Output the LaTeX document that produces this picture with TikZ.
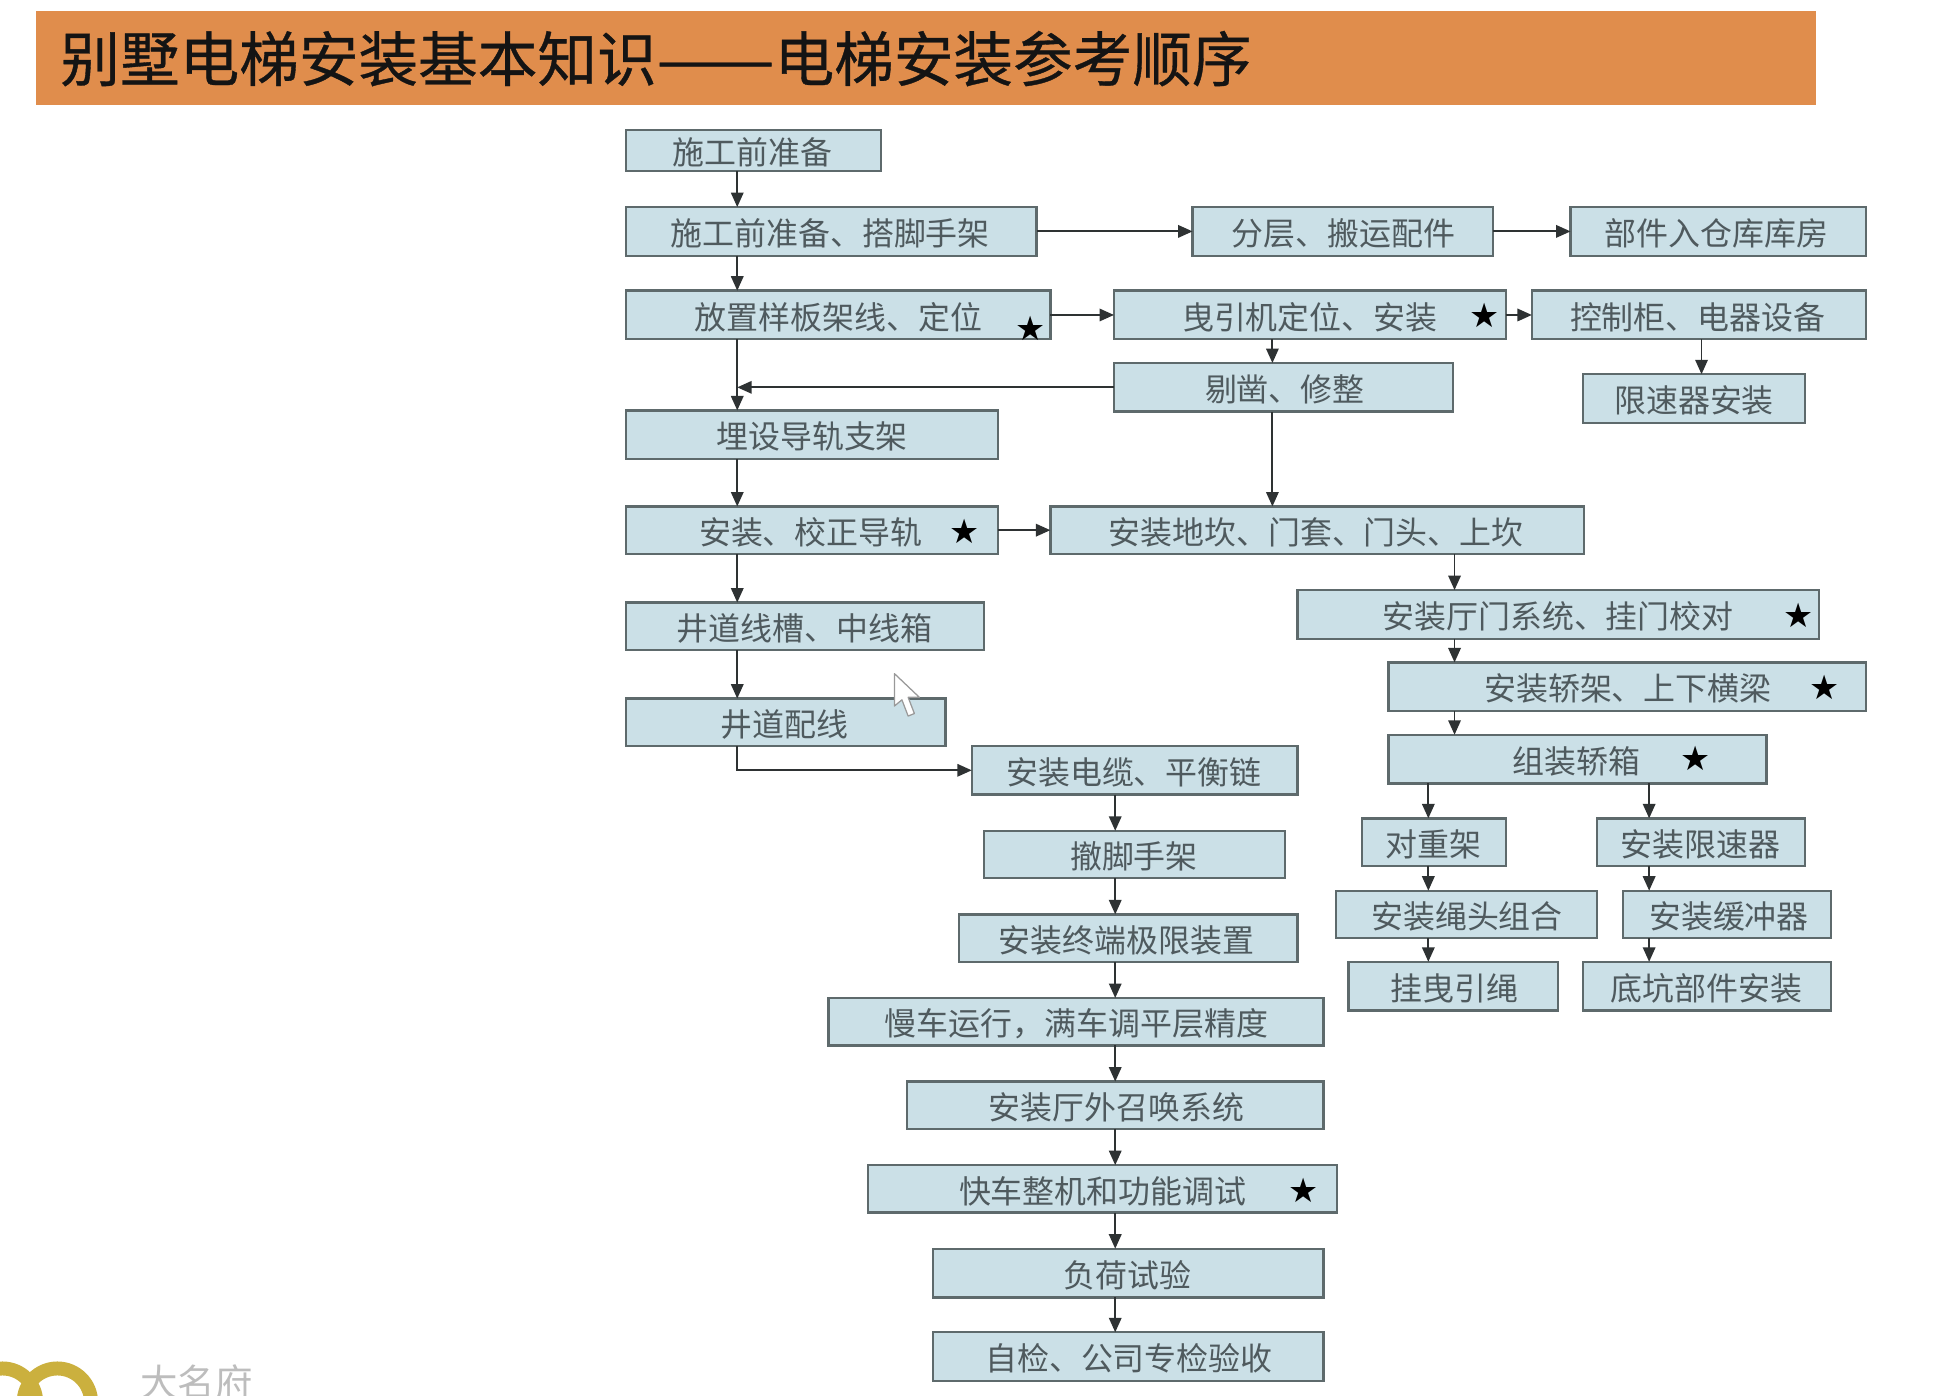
\documentclass[tikz,border=0pt]{standalone}
\usepackage{graphicx}
\usepackage{fontspec}
\usetikzlibrary{arrows.meta}
\newfontfamily\cjkfont{Noto Sans CJK SC}
\newfontfamily\cjktitle[FakeBold=0.6]{Noto Sans CJK SC}
\newfontfamily\symfont{DejaVu Sans}
\definecolor{hdr}{HTML}{E08D4C}
\definecolor{boxfill}{HTML}{CBE0E7}
\definecolor{boxline}{HTML}{5E6A6C}
\definecolor{boxtext}{HTML}{4F5A5E}
\definecolor{arrowc}{HTML}{2E3233}
\definecolor{logogold}{HTML}{CBB03E}
\definecolor{logotext}{HTML}{BDBDBD}
\tikzset{
  flowbox/.style={draw=boxline,fill=boxfill,line width=0.95pt,inner sep=0pt,outer sep=0pt,
    text height=11.4pt,text depth=0pt,
    text=boxtext,font=\cjkfont\fontsize{12.8}{14}\selectfont},
  flow/.style={draw=arrowc,line width=0.75pt,-{Triangle[length=5.8pt,width=5pt]}},
  starmark/.style={inner sep=0pt,text=black,font=\symfont\fontsize{13.5}{14}\selectfont},
  titletext/.style={anchor=west,inner sep=0pt,text=black!92,font=\cjktitle\fontsize{23.9}{26}\selectfont},
  brand/.style={anchor=west,inner sep=0pt,text=logotext,font=\cjkfont\fontsize{15}{16}\selectfont},
}
% name, left, top, right, bottom, text centre x, text
\newcommand\flowbx[7]{%
  \pgfmathsetmacro\bcx{(#2+#4)/2}%
  \pgfmathsetmacro\bcy{(#3+#5)/2}%
  \pgfmathsetmacro\bw{(#4-#2)*0.5}%
  \pgfmathsetmacro\bh{(#5-#3)*0.5}%
  \pgfmathsetmacro\bsh{#6-\bcx}%
  \node[flowbox,minimum width=\bw pt,minimum height=\bh pt] (#1) at (\bcx,\bcy) {\hspace*{\bsh pt}#7};%
}
\begin{document}
\begin{tikzpicture}[x=0.5pt,y=-0.5pt]
\useasboundingbox (0,0) rectangle (1568,1119);
\clip (0,0) rectangle (1568,1119);
\fill[white] (0,0) rectangle (1568,1119);
% header band
\node[fill=hdr,draw=none,inner sep=0pt,minimum width=713.5pt,minimum height=37.5pt] (band) at (742.5,46.5) {};
\node[titletext] (title) at (48,47) {别墅电梯安装基本知识\scalebox{1.18}[1]{——}电梯安装参考顺序};
% column guides for the vertical connectors
\coordinate (cL) at (591,0);
\coordinate (cM) at (1020,0);
\coordinate (cR) at (1166,0);
\coordinate (cA) at (1145,0);
\coordinate (cB) at (1322,0);
\coordinate (cC) at (1364,0);
\coordinate (cD) at (894,0);
% left column
\flowbx{a}{502}{104}{706}{137}{603}{施工前准备}
\flowbx{b}{502}{166}{831}{205}{665.5}{施工前准备、搭脚手架}
\flowbx{c}{502}{233}{842}{272}{672}{放置样板架线、定位}
\flowbx{d}{502}{329}{800}{368}{651}{埋设导轨支架}
\flowbx{e}{502}{406}{800}{444}{650}{安装、校正导轨}
\flowbx{f}{502}{483}{789}{521}{645}{井道线槽、中线箱}
\flowbx{g}{502}{560}{758}{598}{629}{井道配线}
% upper right
\flowbx{fen}{956}{166}{1197}{205}{1077}{分层、搬运配件}
\flowbx{bu}{1259}{166}{1496}{205}{1376}{部件入仓库库房}
\flowbx{ye}{893}{233}{1207}{272}{1050}{曳引机定位、安装}
\flowbx{kong}{1228}{233}{1496}{272}{1361}{控制柜、电器设备}
\flowbx{ti}{893}{291}{1165}{330}{1030}{剔凿、修整}
\flowbx{xian}{1269}{300}{1447}{339}{1358}{限速器安装}
\flowbx{di}{842}{406}{1270}{444}{1055}{安装地坎、门套、门头、上坎}
\flowbx{ting}{1040}{473}{1458}{512}{1249}{安装厅门系统、挂门校对}
\flowbx{jia}{1113}{531}{1496}{570}{1305}{安装轿架、上下横梁}
\flowbx{zu}{1113}{589}{1416}{628}{1264}{组装轿箱}
\flowbx{dui}{1092}{656}{1207}{694}{1149}{对重架}
\flowbx{xs}{1280}{656}{1447}{694}{1363}{安装限速器}
\flowbx{sheng}{1071}{714}{1280}{752}{1176}{安装绳头组合}
\flowbx{huan}{1301}{714}{1468}{752}{1386}{安装缓冲器}
\flowbx{gua}{1081}{771}{1249}{810}{1166}{挂曳引绳}
\flowbx{keng}{1269}{771}{1468}{810}{1368}{底坑部件安装}
% lower column
\flowbx{dl}{779}{598}{1040}{637}{909}{安装电缆、平衡链}
\flowbx{che}{789}{666}{1030}{704}{909}{撤脚手架}
\flowbx{zd}{769}{733}{1040}{771}{903}{安装终端极限装置}
\flowbx{man}{664}{800}{1061}{838}{863}{慢车运行，满车调平层精度}
\flowbx{zh}{727}{867}{1061}{905}{895}{安装厅外召唤系统}
\flowbx{kuai}{696}{934}{1072}{972}{884}{快车整机和功能调试}
\flowbx{fu}{748}{1001}{1061}{1040}{904}{负荷试验}
\flowbx{zj}{748}{1068}{1061}{1107}{905}{自检、公司专检验收}
% stars
\node[starmark] (s1) at (826,263) {★};
\node[starmark] (s2) at (1190,253) {★};
\node[starmark] (s3) at (773,426) {★};
\node[starmark] (s4) at (1442,493) {★};
\node[starmark] (s5) at (1463,551) {★};
\node[starmark] (s6) at (1359,608) {★};
\node[starmark] (s7) at (1045,954) {★};
% connectors
\draw[flow] (a.south -| cL) -- (b.north -| cL);
\draw[flow] (b.south -| cL) -- (c.north -| cL);
\draw[flow] (c.south -| cL) -- (d.north -| cL);
\draw[flow] (d.south -| cL) -- (e.north -| cL);
\draw[flow] (e.south -| cL) -- (f.north -| cL);
\draw[flow] (f.south -| cL) -- (g.north -| cL);
\draw[flow] (g.south -| cL) |- (dl.west);
\draw[flow] (b.east) -- (fen.west);
\draw[flow] (fen.east) -- (bu.west);
\draw[flow] (c.east) -- (ye.west);
\draw[flow] (ye.east) -- (kong.west);
\draw[flow] (ye.south -| cM) -- (ti.north -| cM);
\draw[flow] (ti.south -| cM) -- (di.north -| cM);
\draw[flow] (ti.west) -- (cL |- ti.west);
\draw[flow] (kong.south -| cC) -- (xian.north -| cC);
\draw[flow] (e.east) -- (di.west);
\draw[flow] (di.south -| cR) -- (ting.north -| cR);
\draw[flow] (ting.south -| cR) -- (jia.north -| cR);
\draw[flow] (jia.south -| cR) -- (zu.north -| cR);
\draw[flow] (zu.south -| cA) -- (dui.north -| cA);
\draw[flow] (dui.south -| cA) -- (sheng.north -| cA);
\draw[flow] (sheng.south -| cA) -- (gua.north -| cA);
\draw[flow] (zu.south -| cB) -- (xs.north -| cB);
\draw[flow] (xs.south -| cB) -- (huan.north -| cB);
\draw[flow] (huan.south -| cB) -- (keng.north -| cB);
\draw[flow] (dl.south -| cD) -- (che.north -| cD);
\draw[flow] (che.south -| cD) -- (zd.north -| cD);
\draw[flow] (zd.south -| cD) -- (man.north -| cD);
\draw[flow] (man.south -| cD) -- (zh.north -| cD);
\draw[flow] (zh.south -| cD) -- (kuai.north -| cD);
\draw[flow] (kuai.south -| cD) -- (fu.north -| cD);
\draw[flow] (fu.south -| cD) -- (zj.north -| cD);
% mouse pointer
\draw[gray!80,fill=white,line width=0.5pt,line join=round]
  (717,540) -- (717,566) -- (723,561) -- (728,574) -- (733,572) -- (728,559) -- (737,559) -- cycle;
% logo, cut by the lower edge
\draw[logogold,line width=5.6pt] (46,1124) circle[radius=27];
\draw[logogold,line width=5.6pt] (2,1124) circle[radius=27];
\node[brand] (logo) at (112,1108) {大名府};
\end{tikzpicture}
\end{document}
